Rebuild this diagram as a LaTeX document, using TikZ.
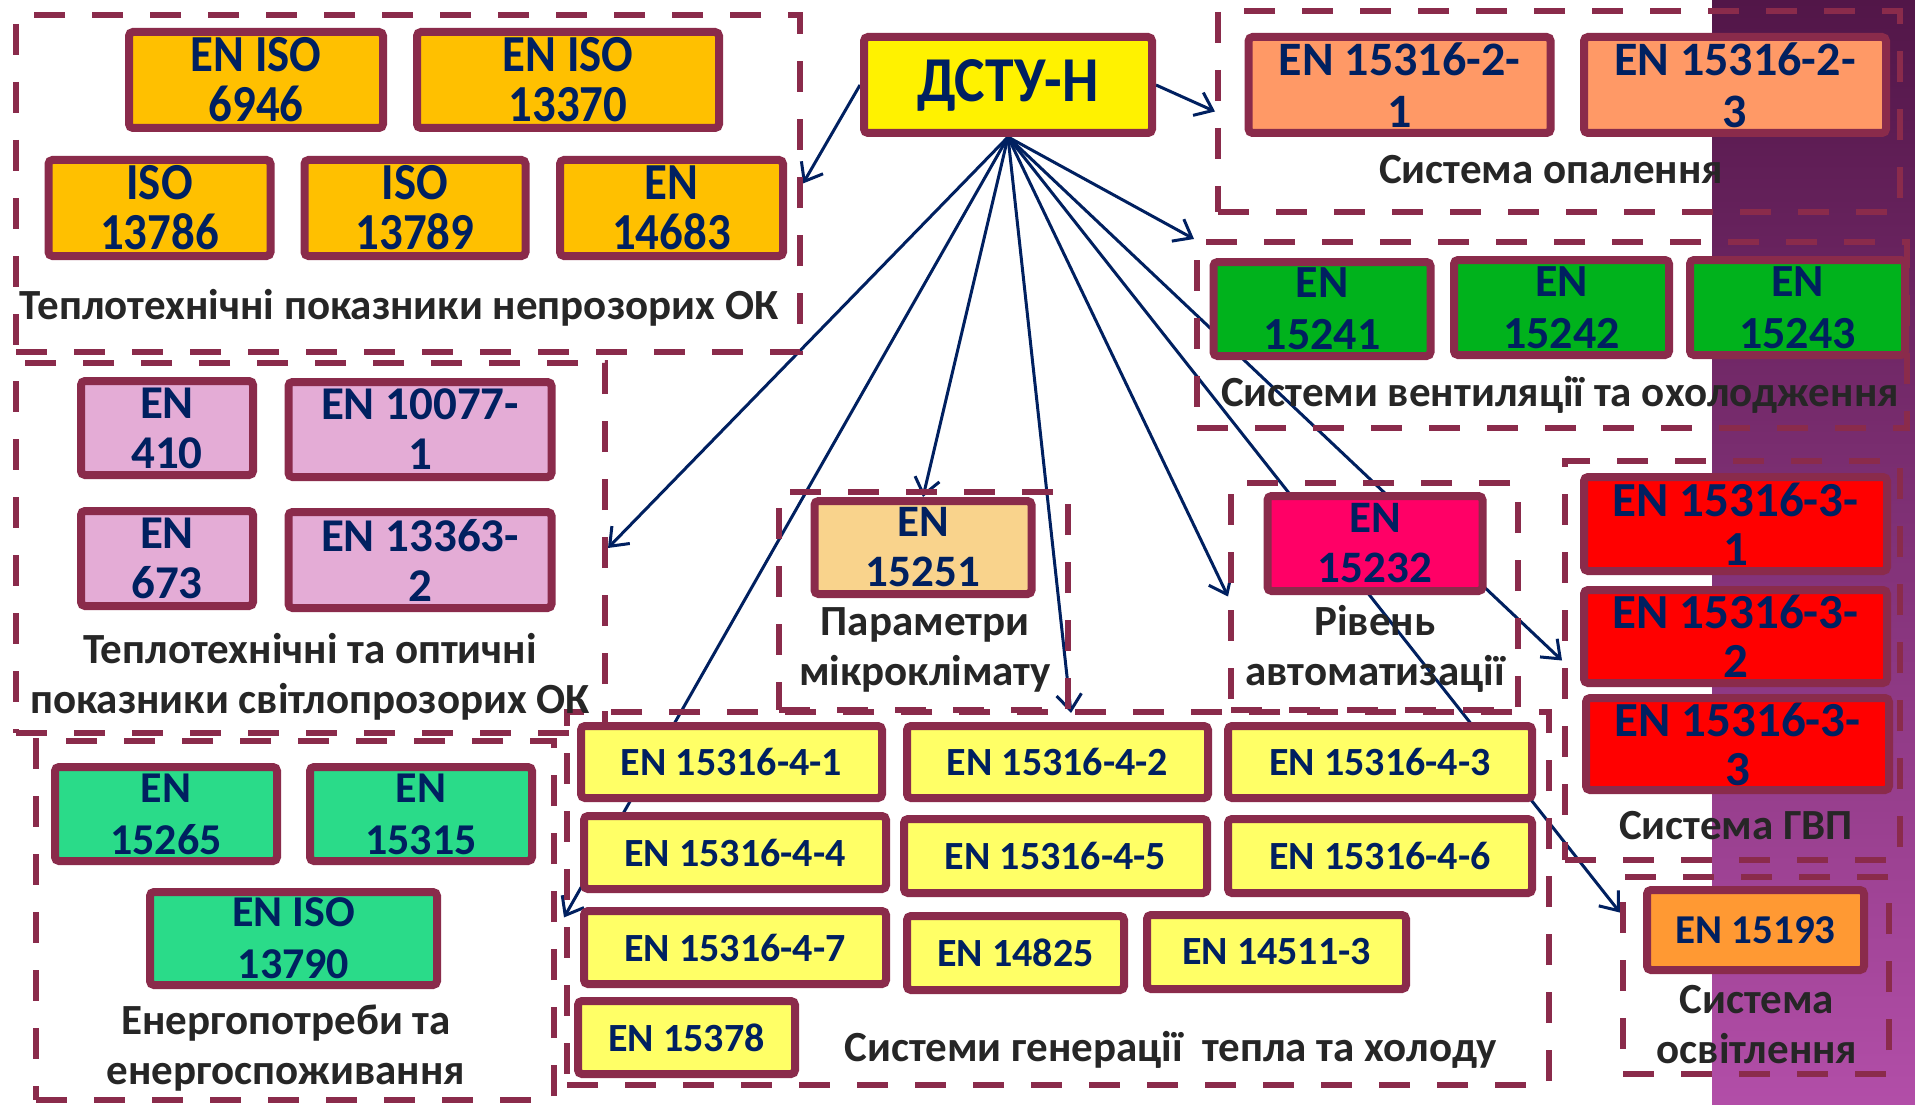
\documentclass[tikz,border=0pt]{standalone}
\usepackage{fontspec}
\setmainfont{Carlito}
\newfontfamily\condfont{Carlito}[FakeStretch=0.9]
\usetikzlibrary{arrows.meta,backgrounds,calc}
\definecolor{frame}{RGB}{138,43,75}
\definecolor{navytext}{RGB}{0,32,96}
\definecolor{labeltext}{RGB}{38,38,38}
\definecolor{opaque}{RGB}{255,192,0}
\definecolor{heating}{RGB}{255,153,102}
\definecolor{venting}{RGB}{0,178,28}
\definecolor{glazing}{RGB}{228,172,214}
\definecolor{climate}{RGB}{249,211,140}
\definecolor{control}{RGB}{255,0,102}
\definecolor{hotwater}{RGB}{255,0,0}
\definecolor{lighting}{RGB}{255,153,51}
\definecolor{generation}{RGB}{255,255,102}
\definecolor{energy}{RGB}{42,219,137}
\definecolor{slidetop}{RGB}{82,22,72}
\definecolor{slidebot}{RGB}{178,78,168}
\begin{document}
\begin{tikzpicture}[x=1pt,y=-1pt,every node/.style={font=\bfseries},
  group/.style 2 args={draw=frame,line width=6pt,dash pattern=on 31pt off 27pt,minimum width=#1pt,minimum height=#2pt,inner sep=0pt},
  norm/.style 2 args={draw=frame,line width=8pt,rounded corners=4pt,text=navytext,align=center,inner sep=0pt,minimum width=#1pt,minimum height=#2pt},
  caption/.style={text=labeltext,align=center,font=\bfseries\fontsize{43}{50}\selectfont},
  link/.style={draw=navytext,line width=3pt,-{Straight Barb[length=16pt,width=25pt]}}]
\useasboundingbox (0,0) rectangle (1915,1105);
\begin{scope}[on background layer]
\fill[white] (0,0) rectangle (1915,1105);
\fill[top color=slidetop,bottom color=slidebot] (1712,0) rectangle (1915,1105);
\end{scope}
\node[norm={288}{96},fill=yellow,font=\condfont\bfseries\fontsize{64}{64}\selectfont] (dstu) at (1008,85) {ДСТУ-Н};
\node[group={784}{337}] (gOpaque) at (408,183.5) {};
\node[group={682}{201}] (gHeat) at (1559,111.5) {};
\node[group={710}{186}] (gVent) at (1552,335) {};
\node[group={589}{370}] (gGlaz) at (310.5,548) {};
\node[group={289}{218}] (gClim) at (923.5,601) {};
\node[group={287}{227}] (gAuto) at (1374.5,596.5) {};
\node[group={335}{399}] (gDhw) at (1732.5,660.5) {};
\node[group={266}{197}] (gLight) at (1756,975.5) {};
\node[group={982}{373}] (gGen) at (1058,898.5) {};
\node[group={518}{359}] (gEnergy) at (295,920.5) {};
\begin{scope}[every node/.append style={fill=opaque,font=\condfont\bfseries\fontsize{52}{50}\selectfont}]
\node[norm={254}{96}] (iso6946) at (256,80) {EN ISO\\6946};
\node[norm={302}{96}] (iso13370) at (568,80) {EN ISO\\13370};
\node[norm={222}{96}] (iso13786) at (159.5,208) {ISO\\13786};
\node[norm={221}{96}] (iso13789) at (415,208) {ISO\\13789};
\node[norm={223}{96}] (en14683) at (671.5,208) {EN\\14683};
\end{scope}
\begin{scope}[every node/.append style={fill=heating,font=\bfseries\fontsize{48}{52}\selectfont}]
\node[norm={302}{96}] (en15316h1) at (1399.6,85) {EN 15316-2-\\1};
\node[norm={302}{96}] (en15316h3) at (1735,85) {EN 15316-2-\\3};
\end{scope}
\begin{scope}[every node/.append style={fill=venting,font=\bfseries\fontsize{46}{52}\selectfont}]
\node[norm={217}{94}] (en15241) at (1322,309) {EN\\15241};
\node[norm={215}{95}] (en15242) at (1561.5,307.5) {EN\\15242};
\node[norm={215}{95}] (en15243) at (1797.5,307.5) {EN\\15243};
\end{scope}
\begin{scope}[every node/.append style={fill=glazing,font=\bfseries\fontsize{47}{50}\selectfont}]
\node[norm={172}{94}] (en410) at (167,428) {EN\\410};
\node[norm={263}{95}] (en10077) at (420,429.5) {EN 10077-\\1};
\node[norm={172}{95}] (en673) at (167,558.5) {EN\\673};
\node[norm={263}{96}] (en13363) at (420,560) {EN 13363-\\2};
\end{scope}
\node[norm={217}{93},fill=climate,font=\bfseries\fontsize{45}{50}\selectfont] (en15251) at (923,547.5) {EN\\15251};
\node[norm={215}{95},fill=control,font=\bfseries\fontsize{45}{50}\selectfont] (en15232) at (1375,543.5) {EN\\15232};
\begin{scope}[every node/.append style={fill=hotwater,font=\bfseries\fontsize{49}{49}\selectfont}]
\node[norm={303}{94}] (en15316w1) at (1735.5,524) {EN 15316-3-\\1};
\node[norm={303}{93}] (en15316w2) at (1735.5,636.5) {EN 15316-3-\\2};
\node[norm={303}{92}] (en15316w3) at (1737.5,744) {EN 15316-3-\\3};
\end{scope}
\node[norm={217}{80},fill=lighting,font=\bfseries\fontsize{41}{48}\selectfont] (en15193) at (1755.5,930) {EN 15193};
\begin{scope}[every node/.append style={fill=generation,font=\bfseries\fontsize{40}{48}\selectfont}]
\node[norm={301}{72}] (en15316g1) at (731.5,762) {EN 15316-4-1};
\node[norm={301}{72}] (en15316g2) at (1057.5,762) {EN 15316-4-2};
\node[norm={304}{72}] (en15316g3) at (1380,762) {EN 15316-4-3};
\node[norm={302}{73}] (en15316g4) at (735,852.5) {EN 15316-4-4};
\node[norm={303}{74}] (en15316g5) at (1055.5,856) {EN 15316-4-5};
\node[norm={304}{74}] (en15316g6) at (1380,856) {EN 15316-4-6};
\node[norm={302}{73}] (en15316g7) at (735,947.5) {EN 15316-4-7};
\node[norm={217}{74}] (en14825) at (1015.5,953) {EN 14825};
\node[norm={259}{74}] (en14511) at (1276.5,952) {EN 14511-3};
\node[norm={217}{73}] (en15378) at (686.5,1037.5) {EN 15378};
\end{scope}
\begin{scope}[every node/.append style={fill=energy,font=\bfseries\fontsize{44}{52}\selectfont}]
\node[norm={222}{94}] (en15265) at (166,814) {EN\\15265};
\node[norm={222}{94}] (en15315) at (421,814) {EN\\15315};
\node[norm={287}{93}] (iso13790) at (293.5,938.5) {EN ISO\\13790};
\end{scope}
\node[caption] (tOpaque) at (399,308) {Теплотехнічні показники непрозорих ОК};
\node[caption] (tHeat) at (1551,170) {Система опалення};
\node[caption] (tVent) at (1560,395) {Системи вентиляції та охолодження};
\node[caption] (tGlaz) at (310,677) {Теплотехнічні та оптичні\\показники світлопрозорих ОК};
\node[caption] (tClim) at (925,650) {Параметри\\мікроклімату};
\node[caption] (tAuto) at (1375,649) {Рівень\\автоматизації};
\node[caption] (tDhw) at (1736,826) {Система ГВП};
\node[caption] (tLight) at (1757,1025) {Система\\освітлення};
\node[caption] (tGen) at (1171,1050) {Системи генерації~ тепла та холоду};
\node[caption] (tEnergy) at (286,1048) {Енергопотреби та\\енергоспоживання};
\begin{scope}[on background layer]
\draw[link] (dstu.west) -- (gOpaque.east);
\draw[link] (dstu.east) -- (gHeat.west);
\draw[link] (dstu.south) -- (gVent.north west);
\draw[link] (dstu.south) -- (gGlaz.east);
\draw[link] (dstu.south) -- (en15251.north);
\draw[link] (dstu.south) -- ($(gGen.north west)!0.55!(gGen.south west)$);
\draw[link] (dstu.south) -- (gClim.south east);
\draw[link] (dstu.south) -- (gAuto.west);
\draw[link] (dstu.south) -- (gDhw.west);
\draw[link] (dstu.south) -- ($(gLight.north west)!0.19!(gLight.south west)$);
\end{scope}
\end{tikzpicture}
\end{document}
